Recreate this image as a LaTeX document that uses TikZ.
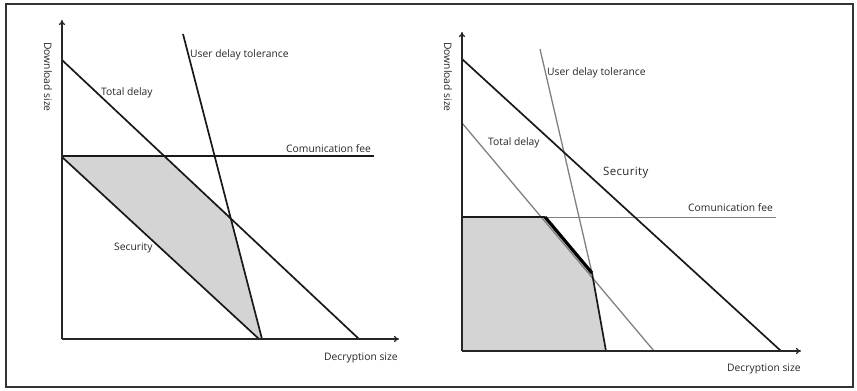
\documentclass[tikz,border=0pt]{standalone}
\usepackage{fontspec}
\setmainfont{Open Sans}
\usetikzlibrary{arrows.meta}
\tikzset{
  axis/.style={line width=1.2pt, draw=black!85, -{To[length=5pt,width=6pt]}},
  bline/.style={line width=1.7pt, draw=black!90},
  gline/.style={line width=1.3pt, draw=black!50},
  lbl/.style={font=\fontsize{10.3}{12}\selectfont, inner sep=0pt, text=black!85},
  region/.style={fill=black!17, draw=none},
}
\begin{document}
\begin{tikzpicture}[x=1pt,y=-1pt]
\useasboundingbox (0,0) rectangle (857,391);
\draw[line width=1.3pt, draw=black!80] (6,4) rectangle (853,387);

% ---------- left panel ----------
\coordinate (LO) at (62,339);
\coordinate (LY) at (62,20);
\coordinate (LX) at (399,339);
\coordinate (TDa) at (62,60);   \coordinate (TDb) at (359,339);
\coordinate (SEa) at (62,157);  \coordinate (SEb) at (259,339);
\coordinate (CFa) at (62,156);  \coordinate (CFb) at (374,156);
\coordinate (UDa) at (183,34);  \coordinate (UDb) at (262,339);
\coordinate (P1) at (163.5,156);
\coordinate (P2) at (231,217);

\fill[region] (SEa) -- (P1) -- (P2) -- (UDb) -- (SEb) -- cycle;
\draw[bline] (TDa) -- (TDb);
\draw[bline] (SEa) -- (SEb);
\draw[bline] (CFa) -- (CFb);
\draw[bline] (UDa) -- (UDb);
\draw[axis] (LO) -- (LY);
\draw[axis] (LO) -- (LX);

\node[lbl, anchor=west] (lud) at (190,55) {User delay tolerance};
\node[lbl, anchor=west] (ltd) at (101,93) {Total delay};
\node[lbl, anchor=west] (lcf) at (286,149) {Comunication fee};
\node[lbl, anchor=west] (lse) at (114,248) {Security};
\node[lbl, anchor=west] (ldx) at (324,358) {Decryption size};
\node[lbl, rotate=-90] (ldy) at (48,77) {Download size};

% ---------- right panel ----------
\coordinate (RO) at (462,351);
\coordinate (RY) at (462,32);
\coordinate (RX) at (801,351);
\coordinate (rSEa) at (462,59);   \coordinate (rSEb) at (781,351);
\coordinate (rTDa) at (462,123);  \coordinate (rTDb) at (654,351);
\coordinate (rCFa) at (462,217);  \coordinate (rCFb) at (776,217);
\coordinate (rUDa) at (540,49);
\coordinate (Q1) at (545,217);
\coordinate (Q2) at (592,273);
\coordinate (rUDb) at (606,351);

\fill[region] (rCFa) -- (Q1) -- (Q2) -- (rUDb) -- (RO) -- cycle;
\draw[gline, line width=1pt] (rCFa) -- (rCFb);
\draw[gline] (rTDa) -- (rTDb);
\draw[gline] (rUDa) -- (Q2);
\draw[bline] (rSEa) -- (rSEb);
\draw[bline] (rCFa) -- (Q1);
\draw[line width=3.2pt, draw=black] (Q1) -- (Q2);
\draw[bline] (Q2) -- (rUDb);
\draw[axis] (RO) -- (RY);
\draw[axis] (RO) -- (RX);

\node[lbl, anchor=west] (rud) at (547,73) {User delay tolerance};
\node[lbl, anchor=west] (rtd) at (488,143) {Total delay};
\node[lbl, anchor=west, font=\fontsize{11.5}{13}\selectfont\addfontfeature{LetterSpace=3}] (rse) at (603,173) {Security};
\node[lbl, anchor=west] (rcf) at (688,208) {Comunication fee};
\node[lbl, anchor=west] (rdx) at (727,369) {Decryption size};
\node[lbl, rotate=-90] (rdy) at (448,77) {Download size};
\end{tikzpicture}
\end{document}
